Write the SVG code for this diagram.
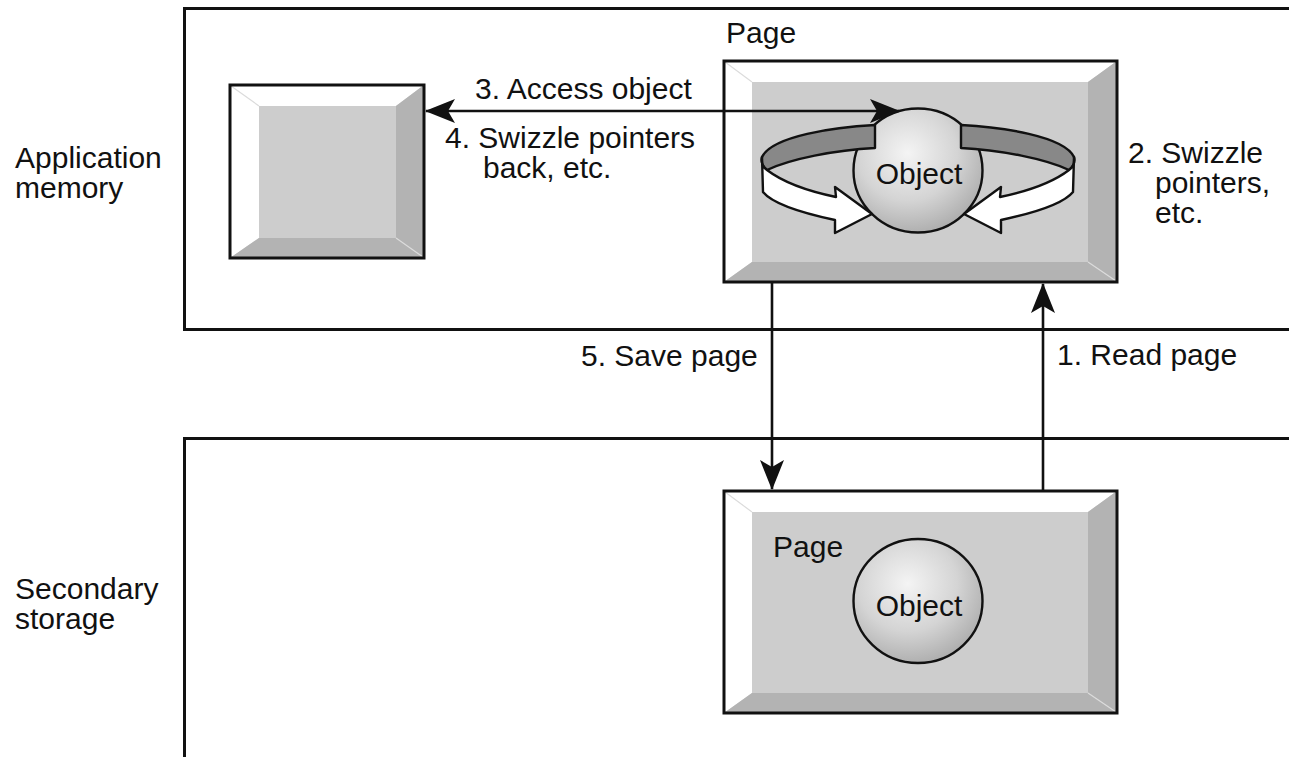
<svg xmlns="http://www.w3.org/2000/svg" width="1289" height="757" viewBox="0 0 1289 757">
  <style>
    .lbl { font-family: "Liberation Sans", Arial, Helvetica, sans-serif; font-size: 30px; fill: #111; }
    .mid { text-anchor: middle; }
    .frame { fill: none; stroke: #111; stroke-width: 3; }
    .face { fill: #cdcdcd; }
    .hi { fill: #ffffff; }
    .lo { fill: #b3b3b3; }
    .seam { stroke: #dcdcdc; stroke-width: 1.2; fill: none; }
    .edge { fill: none; stroke: #111; stroke-width: 3; }
    .wire { fill: none; stroke: #111; stroke-width: 2.6; }
    .band-back { fill: #888888; stroke: #111; stroke-width: 2.4; stroke-linejoin: round; }
    .band-front { fill: #ffffff; stroke: #111; stroke-width: 2.4; stroke-linejoin: round; }
    .ball { stroke: #111; stroke-width: 2.4; }
  </style>
  <defs>
    <marker id="head" viewBox="0 0 30 24" markerWidth="30" markerHeight="24" refX="29" refY="12" orient="auto-start-reverse" markerUnits="userSpaceOnUse">
      <path d="M0,0 L30,12 L0,24 L7,12 Z" fill="#111"/>
    </marker>
    <radialGradient id="shade" cx="0.42" cy="0.36" r="0.7">
      <stop offset="0" stop-color="#f4f4f4"/>
      <stop offset="0.55" stop-color="#d4d4d4"/>
      <stop offset="1" stop-color="#a8a8a8"/>
    </radialGradient>
    <!-- left half of the twisting ribbon around the object -->
    <g id="ribbon-half">
      <path class="band-back" d="M875,125 C835,127 772,136 762,157 C761,162 763,167 767,170 C790,159 835,150 875,148 Z"/>
      <path class="band-front" d="M762,157 L763,192 C772,203 802,213 835,220 L835,233 L872,214 L835,187 L836,197 C812,192 784,183 767,170 C763,167 761,162 762,157 Z"/>
    </g>
  </defs>

  <!-- region frames -->
  <g id="app-memory">
    <path class="edge" d="M1292,8.5 H184.5 V329.5 H1292"/>
    <text class="lbl" x="15" y="168">Application</text>
    <text class="lbl" x="15" y="198">memory</text>
  </g>
  <g id="secondary-storage">
    <path class="edge" d="M1292,438.5 H184.5 V760"/>
    <text class="lbl" x="15" y="599">Secondary</text>
    <text class="lbl" x="15" y="629">storage</text>
  </g>

  <!-- object slot in application memory -->
  <g id="app-slot">
    <rect class="face" x="230" y="85" width="194" height="173"/>
    <polygon class="hi" points="230,85 424,85 396,106 259,106"/>
    <polygon class="hi" points="230,85 259,106 259,238 230,258"/>
    <polygon class="lo" points="424,85 424,258 396,238 396,106"/>
    <polygon class="lo" points="230,258 259,238 396,238 424,258"/>
    <path class="seam" d="M231,86 L259,106 M423,257 L396,238"/>
    <rect class="frame" x="230" y="85" width="194" height="173"/>
  </g>

  <!-- page in memory -->
  <g id="mem-page">
    <rect class="face" x="724" y="61" width="393" height="221"/>
    <polygon class="hi" points="724,61 1117,61 1088,82 752,82"/>
    <polygon class="hi" points="724,61 752,82 752,262 724,282"/>
    <polygon class="lo" points="1117,61 1117,282 1088,262 1088,82"/>
    <polygon class="lo" points="724,282 752,262 1088,262 1117,282"/>
    <path class="seam" d="M725,62 L752,82 M1116,281 L1088,262"/>
    <rect class="frame" x="724" y="61" width="393" height="221"/>
    <text class="lbl" x="726" y="43">Page</text>
    <ellipse class="ball" cx="918" cy="170.5" rx="64.5" ry="62" fill="url(#shade)"/>
    <use href="#ribbon-half"/>
    <use href="#ribbon-half" transform="translate(1836,0) scale(-1,1)"/>
    <text class="lbl mid" x="919" y="184">Object</text>
  </g>

  <!-- page on disk -->
  <g id="disk-page">
    <rect class="face" x="724" y="491" width="393" height="222"/>
    <polygon class="hi" points="724,491 1117,491 1088,512 752,512"/>
    <polygon class="hi" points="724,491 752,512 752,693 724,713"/>
    <polygon class="lo" points="1117,491 1117,713 1088,693 1088,512"/>
    <polygon class="lo" points="724,713 752,693 1088,693 1117,713"/>
    <path class="seam" d="M725,492 L752,512 M1116,712 L1088,693"/>
    <rect class="frame" x="724" y="491" width="393" height="222"/>
    <text class="lbl" x="773" y="557">Page</text>
    <ellipse class="ball" cx="918" cy="601" rx="64.5" ry="62" fill="url(#shade)"/>
    <text class="lbl mid" x="919" y="616">Object</text>
  </g>

  <!-- connectors -->
  <g id="connectors">
    <line class="wire" x1="426" y1="111" x2="899" y2="111" marker-start="url(#head)" marker-end="url(#head)"/>
    <line class="wire" x1="772" y1="282" x2="772" y2="489" marker-end="url(#head)"/>
    <line class="wire" x1="1043" y1="491" x2="1043" y2="284" marker-end="url(#head)"/>
  </g>

  <!-- step labels -->
  <g id="labels">
    <text class="lbl" x="475" y="99">3. Access object</text>
    <text class="lbl" x="445" y="148">4. Swizzle pointers</text>
    <text class="lbl" x="483" y="178">back, etc.</text>
    <text class="lbl" x="1128" y="163">2. Swizzle</text>
    <text class="lbl" x="1155" y="193">pointers,</text>
    <text class="lbl" x="1155" y="223">etc.</text>
    <text class="lbl" x="581" y="366">5. Save page</text>
    <text class="lbl" x="1057" y="365">1. Read page</text>
  </g>
</svg>
